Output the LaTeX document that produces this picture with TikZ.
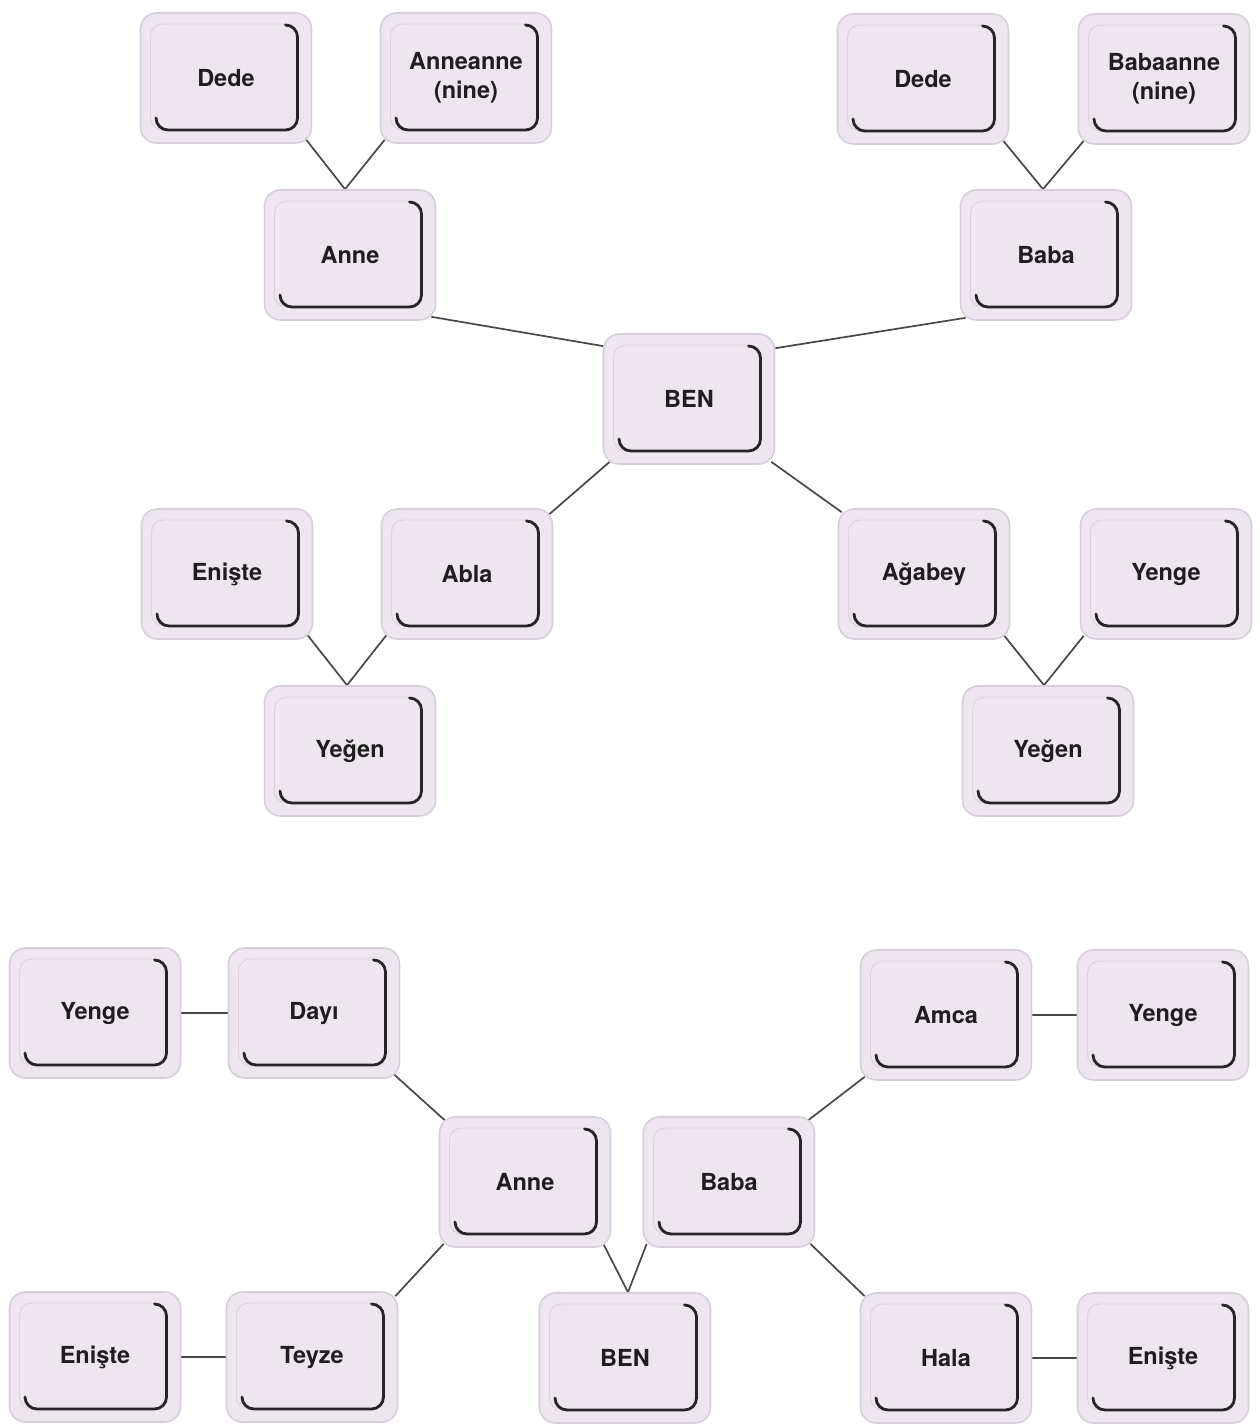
\documentclass[tikz,border=0pt]{standalone}
\usepackage{fontspec}
\setmainfont{TeX Gyre Heros}
\usetikzlibrary{backgrounds}
\pgfdeclarelayer{paper}
\pgfdeclarelayer{background}
\pgfsetlayers{paper,background,main}
\definecolor{boxfill}{HTML}{EEE6EF}
\definecolor{boxedge}{HTML}{D6CED8}
\definecolor{innerlite}{HTML}{DBD2DC}
\definecolor{inkdark}{HTML}{262428}
\definecolor{linkgray}{HTML}{474747}
\definecolor{txt}{HTML}{1E1E1E}
\tikzset{
  fambox/.style={rectangle, rounded corners=16pt, minimum width=171pt, minimum height=130pt,
    inner sep=0pt, fill=boxfill, draw=boxedge, line width=1.6pt, text=txt,
    font=\bfseries\fontsize{23.5}{29}\selectfont, align=center,
    path picture={
      \draw[draw=innerlite, line width=0.9pt, rounded corners=12pt]
        ([shift={(-75.5pt,-52pt)}]path picture bounding box.center) rectangle
        ([shift={(71.5pt,54pt)}]path picture bounding box.center);
      \draw[draw=inkdark, line width=2.8pt, line cap=round, rounded corners=12pt]
        ([shift={(59.5pt,53pt)}]path picture bounding box.center) --
        ([shift={(71.5pt,53pt)}]path picture bounding box.center) --
        ([shift={(71.5pt,-52pt)}]path picture bounding box.center) --
        ([shift={(-70pt,-52pt)}]path picture bounding box.center) --
        ([shift={(-70pt,-40pt)}]path picture bounding box.center);
    }},
  link/.style={draw=linkgray, line width=1.7pt}
}
\begin{document}
\begin{tikzpicture}[x=1pt,y=-1pt]
\begin{pgfonlayer}{paper}
\fill[white] (0,0) rectangle (1259,1425);
\end{pgfonlayer}
\useasboundingbox (0,0) rectangle (1259,1425);
% ---- top tree ----
\node[fambox] (dedeA) at (226,78) {Dede};
\node[fambox] (anneanne) at (466,78) {Anneanne\\(nine)};
\node[fambox] (anneA) at (350,255) {Anne};
\node[fambox] (benA) at (689,399) {BEN};
\node[fambox] (dedeB) at (923,79) {Dede};
\node[fambox] (babaanne) at (1164,79) {Babaanne\\(nine)};
\node[fambox] (babaA) at (1046,255) {Baba};
\node[fambox] (enisteA) at (227,574) {Enişte};
\node[fambox] (abla) at (467,574) {Abla};
\node[fambox] (yegenA) at (350,751) {Yeğen};
\node[fambox] (agabey) at (924,574) {Ağabey};
\node[fambox] (yengeA) at (1166,574) {Yenge};
\node[fambox] (yegenB) at (1048,751) {Yeğen};
% ---- bottom tree ----
\node[fambox] (yengeB) at (95,1013) {Yenge};
\node[fambox] (dayi) at (314,1013) {Dayı};
\node[fambox] (anneB) at (525,1182) {Anne};
\node[fambox] (babaB) at (729,1182) {Baba};
\node[fambox] (amca) at (946,1015) {Amca};
\node[fambox] (yengeC) at (1163,1015) {Yenge};
\node[fambox] (enisteB) at (95,1357) {Enişte};
\node[fambox] (teyze) at (312,1357) {Teyze};
\node[fambox] (benB) at (625,1358) {BEN};
\node[fambox] (hala) at (946,1358) {Hala};
\node[fambox] (enisteC) at (1163,1358) {Enişte};
\begin{pgfonlayer}{background}
% top
\draw[link] ([shift={(-6pt,4pt)}]dedeA.south east) -- ([xshift=-5pt]anneA.north);
\draw[link] ([shift={(5pt,4pt)}]anneanne.south west) -- ([xshift=-5pt]anneA.north);
\draw[link] ([shift={(-5pt,4pt)}]anneA.south east) -- ([shift={(1pt,-13pt)}]benA.north west);
\draw[link] ([shift={(6pt,3pt)}]babaA.south west) -- ([shift={(0pt,-15pt)}]benA.north east);
\draw[link] ([shift={(-6pt,4pt)}]dedeB.south east) -- ([xshift=-3pt]babaA.north);
\draw[link] ([shift={(6pt,4pt)}]babaanne.south west) -- ([xshift=-3pt]babaA.north);
\draw[link] ([shift={(7pt,3pt)}]benA.south west) -- ([shift={(-4pt,-6pt)}]abla.north east);
\draw[link] ([shift={(-4pt,3pt)}]benA.south east) -- ([shift={(4pt,-4pt)}]agabey.north west);
\draw[link] ([shift={(-6pt,5pt)}]enisteA.south east) -- ([xshift=-3pt]yegenA.north);
\draw[link] ([shift={(6pt,5pt)}]abla.south west) -- ([xshift=-3pt]yegenA.north);
\draw[link] ([shift={(-6pt,4pt)}]agabey.south east) -- ([xshift=-4pt]yegenB.north);
\draw[link] ([shift={(4pt,4pt)}]yengeA.south west) -- ([xshift=-4pt]yegenB.north);
% bottom
\draw[link] (yengeB.east) -- (dayi.west);
\draw[link] ([shift={(-7pt,5pt)}]dayi.south east) -- ([shift={(6pt,-4pt)}]anneB.north west);
\draw[link] ([shift={(5pt,4pt)}]anneB.south west) -- ([shift={(-3pt,-5pt)}]teyze.north east);
\draw[link] ([shift={(-8pt,4pt)}]anneB.south east) -- ([xshift=3pt]benB.north);
\draw[link] ([shift={(4pt,4pt)}]babaB.south west) -- ([xshift=3pt]benB.north);
\draw[link] ([shift={(-7pt,-4pt)}]babaB.north east) -- ([shift={(5pt,4pt)}]amca.south west);
\draw[link] ([shift={(-5pt,4pt)}]babaB.south east) -- ([shift={(5pt,-4pt)}]hala.north west);
\draw[link] (amca.east) -- (yengeC.west);
\draw[link] (enisteB.east) -- (teyze.west);
\draw[link] (hala.east) -- (enisteC.west);
\end{pgfonlayer}
\end{tikzpicture}
\end{document}
